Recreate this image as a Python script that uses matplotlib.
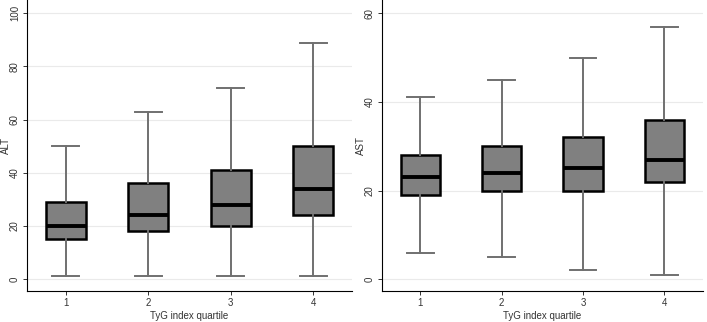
import matplotlib
matplotlib.use("Agg")
import matplotlib.pyplot as plt

plt.rcParams['font.family'] = ['Liberation Sans', 'DejaVu Sans']

quartiles = [1, 2, 3, 4]
xlabel = "TyG index quartile"

# ALT box stats: whislo, q1, med, q3, whishi
alt_whislo = [1, 1, 1, 1]
alt_q1 = [15, 18, 20, 24]
alt_med = [20, 24, 28, 34]
alt_q3 = [29, 36, 41, 50]
alt_whishi = [50, 63, 72, 89]

ast_whislo = [6, 5, 2, 1]
ast_q1 = [19, 20, 20, 22]
ast_med = [23, 24, 25, 27]
ast_q3 = [28, 30, 32, 36]
ast_whishi = [41, 45, 50, 57]

alt_ticks = [0, 20, 40, 60, 80, 100]
ast_ticks = [0, 20, 40, 60]

fig = plt.figure(figsize=(7.07, 3.22), dpi=100)
ax1 = fig.add_axes([0.038, 0.096, 0.460, 0.904])
ax2 = fig.add_axes([0.540, 0.096, 0.454, 0.904])

def draw(ax, lo, q1, med, q3, hi, ticks, ylim, ylabel):
    stats = []
    for i in range(len(quartiles)):
        stats.append(dict(whislo=lo[i], q1=q1[i], med=med[i], q3=q3[i], whishi=hi[i],
                          fliers=[], label=str(quartiles[i])))
    ax.bxp(stats, positions=quartiles, widths=0.485, showfliers=False, patch_artist=True,
           boxprops=dict(facecolor='#808080', edgecolor='black', linewidth=1.8),
           medianprops=dict(color='black', linewidth=2.8),
           whiskerprops=dict(color='#707070', linewidth=1.4),
           capprops=dict(color='#707070', linewidth=1.4),
           capwidths=0.33)
    ax.set_xlim(0.527, 4.473)
    ax.set_ylim(*ylim)
    ax.set_yticks(ticks)
    ax.set_yticklabels([str(t) for t in ticks], rotation=90, va='center')
    ax.grid(axis='y', color='#eaeaea', linewidth=0.8)
    ax.set_axisbelow(True)
    for s in ['top', 'right']:
        ax.spines[s].set_visible(False)
    ax.spines['left'].set_linewidth(0.8)
    ax.spines['bottom'].set_linewidth(0.8)
    ax.tick_params(axis='both', labelsize=7, colors='#333333', length=3, width=0.7, pad=2)
    ax.set_xlabel(xlabel, fontsize=7, color='#333333', labelpad=2)
    ax.set_ylabel(ylabel, fontsize=7, color='#333333')
    ax.yaxis.label.set_va('center')
    ax.yaxis.set_label_coords(-0.064, 0.5)

draw(ax1, alt_whislo, alt_q1, alt_med, alt_q3, alt_whishi, alt_ticks, (-4.5, 105), "ALT")
draw(ax2, ast_whislo, ast_q1, ast_med, ast_q3, ast_whishi, ast_ticks, (-2.7, 63), "AST")

fig.savefig("out.png", dpi=100)
